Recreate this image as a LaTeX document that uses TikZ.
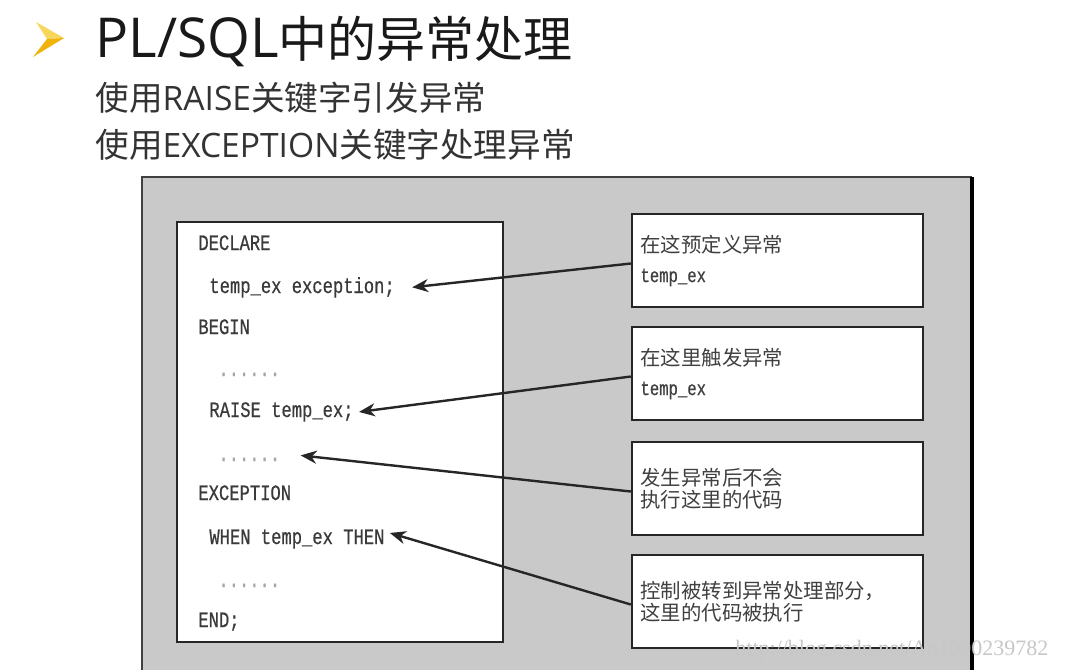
\documentclass[tikz,border=0pt]{standalone}
\usepackage{fontspec}
\newfontfamily\cjk{Noto Sans CJK SC}
\newfontfamily\latin{Open Sans}
\newfontfamily\codefont[FakeStretch=0.78,FakeBold=0.6]{Liberation Mono}
\newfontfamily\wmfont{Liberation Serif}
\usetikzlibrary{
  arrows.meta,
  calc}

\definecolor{panelgray}{HTML}{C9C9C9}
\definecolor{codegray}{HTML}{3A3A3A}
\definecolor{notegray}{HTML}{404040}
\definecolor{bulletlight}{HTML}{F8D65C}
\definecolor{bulletdark}{HTML}{EFB30A}

\begin{document}
\begin{tikzpicture}[
  x=0.5pt,
  y=-0.5pt,
  notebox/.style={rectangle,draw=black!85,line width=1.2pt,fill=white,
    minimum width=145.5pt,minimum height=46.5pt,text width=137pt,
    align=left,inner sep=4pt,text=notegray,
    font=\cjk\fontsize{10.2}{15}\selectfont},
  tightbox/.style={notebox,font=\cjk\fontsize{10.2}{11}\selectfont},
  codeline/.style={anchor=base west,inner sep=0pt,text=codegray,
    font=\codefont\fontsize{11}{11}\selectfont},
  dotline/.style={codeline,text=black!35},
  pointer/.style={-{Stealth[length=8pt,width=6.5pt,inset=2.5pt]},
    line width=1.2pt,draw=black!85}
]%
  \useasboundingbox (0,0) rectangle (1076,670);

  % Heading
  \fill[bulletlight] (36,22) -- (64,38) -- (47,39) -- cycle;
  \fill[bulletdark] (47,39) -- (64,38) -- (33,57) -- cycle;
  \node[anchor=base west,inner sep=0pt,text=black!90,
    font=\cjk\fontsize{24.5}{24.5}\selectfont] (title) at (95,57)
    {{\latin\fontsize{27.5}{27.5}\selectfont PL/SQL}中的异常处理};
  \node[anchor=base west,inner sep=0pt,text=black!80,
    font=\cjk\fontsize{16.8}{16.8}\selectfont] (sub1) at (95,110)
    {使用{\latin RAISE}关键字引发异常};
  \node[anchor=base west,inner sep=0pt,text=black!80,
    font=\cjk\fontsize{16.8}{16.8}\selectfont] (sub2) at (95,157)
    {使用{\latin EXCEPTION}关键字处理异常};

  % Panel
  \fill[panelgray] (142,177) rectangle (972,670);
  \draw[line width=1pt,black!75] (142,670) -- (142,177) -- (972,177);
  \draw[line width=2pt] (972,177) -- (972,670);

  % Code block
  \node[rectangle,draw=black!85,line width=1pt,fill=white,
    minimum width=163pt,minimum height=210pt] (code) at (340,432) {};
  \node[codeline] (ldeclare) at (198,250) {DECLARE};
  \node[codeline] (lvar)     at (209,293) {temp\_ex exception;};
  \node[codeline] (lbegin)   at (198,334) {BEGIN};
  \node[dotline]  (ldotsa)   at (218,376) {......};
  \node[codeline] (lraise)   at (209,417) {RAISE temp\_ex;};
  \node[dotline]  (ldotsb)   at (218,461) {......};
  \node[codeline] (lexcept)  at (198,500) {EXCEPTION};
  \node[codeline] (lwhen)    at (209,544) {WHEN temp\_ex THEN};
  \node[dotline]  (ldotsc)   at (218,587) {......};
  \node[codeline] (lend)     at (198,627) {END;};

  % Notes
  \node[notebox] (define) at (777.5,260.5)
    {在这预定义异常\\{\codefont\fontsize{10}{15}\selectfont temp\_ex}};
  \node[notebox] (raise) at (777.5,373.5)
    {在这里触发异常\\{\codefont\fontsize{10}{15}\selectfont temp\_ex}};
  \node[tightbox] (skip) at (777.5,488.5)
    {发生异常后不会\\执行这里的代码};
  \node[tightbox] (handle) at (777.5,601.5)
    {控制被转到异常处理部分，\\这里的代码被执行};

  % Pointers
  \draw[pointer] ([yshift=-1.5pt]define.west) -- ([xshift=8.5pt]lvar.east);
  \draw[pointer] ([yshift=-1.5pt]raise.west)  -- ([xshift=2.5pt]lraise.east);
  \draw[pointer] ([yshift=-1.5pt]skip.west)   -- ([xshift=10pt,yshift=2pt]ldotsb.east);
  \draw[pointer] ([yshift=-1.5pt]handle.west) -- ([xshift=2.5pt,yshift=3pt]lwhen.east);

  % Watermark
  \node[anchor=west,inner sep=0pt,text=black!22,
    font=\wmfont\fontsize{11}{11}\selectfont] (mark) at (735,650)
    {http://blog.csdn.net/An1090239782};
\end{tikzpicture}
\end{document}
